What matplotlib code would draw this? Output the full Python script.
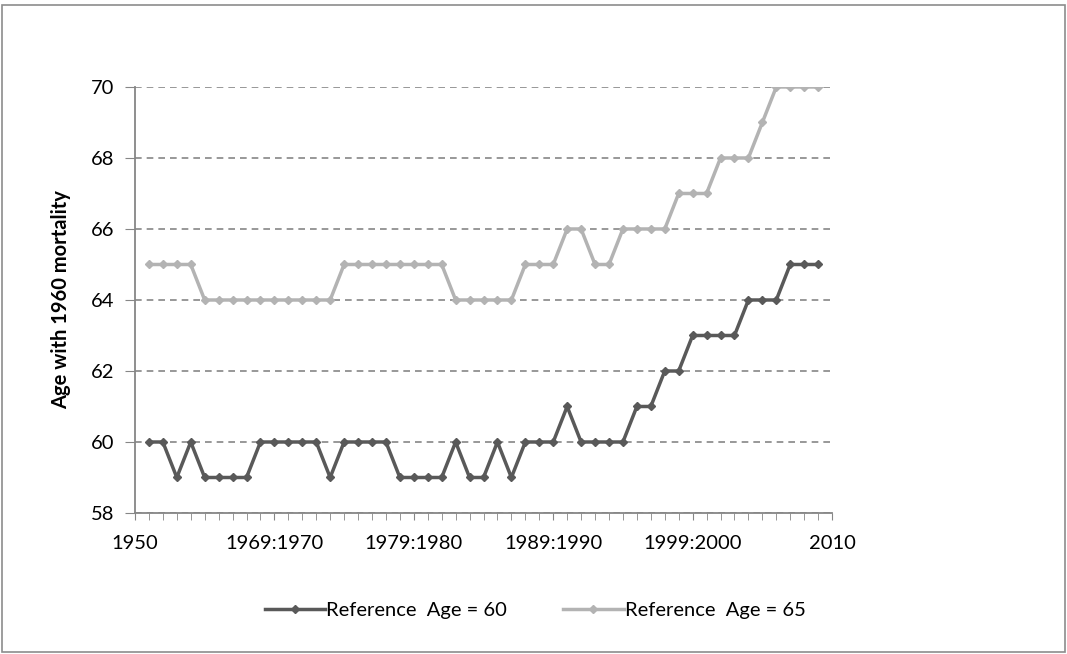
import matplotlib.pyplot as plt
import numpy as np
from matplotlib.patches import Rectangle

plt.rcParams["font.family"] = ["Lato", "DejaVu Sans"]

# values, one per category position (49 points)
age_60 = [60, 60, 59, 60, 59, 59, 59, 59, 60, 60, 60, 60, 60, 59, 60, 60, 60,
          60, 59, 59, 59, 59, 60, 59, 59, 60, 59, 60, 60, 60, 61, 60, 60, 60,
          60, 61, 61, 62, 62, 63, 63, 63, 63, 64, 64, 64, 65, 65, 65]
age_65 = [65, 65, 65, 65, 64, 64, 64, 64, 64, 64, 64, 64, 64, 64, 65, 65, 65,
          65, 65, 65, 65, 65, 64, 64, 64, 64, 64, 65, 65, 65, 66, 66, 65, 65,
          66, 66, 66, 66, 67, 67, 67, 68, 68, 68, 69, 70, 70, 70, 70]
x_labels = ["1950", "1969:1970", "1979:1980", "1989:1990", "1999:2000", "2010"]
series_labels = ["Reference  Age = 60", "Reference  Age = 65"]

dark = "#595959"
light = "#b3b3b3"
axis_grey = "#868686"

fig = plt.figure(figsize=(10.67, 6.54), dpi=100)
ax = fig.add_axes([0.1265, 0.2156, 0.6533, 0.6514])

x = np.arange(1, len(age_60) + 1)
ax.plot(x, age_60, color=dark, linewidth=2.5, marker="D", markersize=4.5,
        label=series_labels[0])
ax.plot(x, age_65, color=light, linewidth=2.5, marker="D", markersize=4.5,
        label=series_labels[1])

ax.set_xlim(0, len(age_60) + 1)
ax.set_ylim(58, 70)
ax.set_yticks(np.arange(58, 71, 2))
ax.set_xticks(np.arange(0, 51, 10))
ax.set_xticklabels(x_labels)
ax.set_xticks(np.arange(0, 51, 1), minor=True)

ax.yaxis.grid(True, linestyle=(0, (4, 3)), color=axis_grey, linewidth=1.2)
ax.set_axisbelow(True)

for side in ["top", "right"]:
    ax.spines[side].set_visible(False)
for side in ["left", "bottom"]:
    ax.spines[side].set_color(axis_grey)
    ax.spines[side].set_linewidth(1.3)

ax.tick_params(axis="y", which="major", length=7, color=axis_grey,
               labelsize=14.5, pad=8, direction="out")
ax.tick_params(axis="x", which="both", length=5, color=axis_grey,
               labelsize=14.5, pad=11, direction="out")

ax.set_ylabel("Age with 1960 mortality", fontsize=14.5, fontweight="bold",
              labelpad=14)

fig.legend(loc="center", bbox_to_anchor=(535 / 1067, 1 - 610 / 654), ncol=2,
           frameon=False, fontsize=14.5, handlelength=3.0, handletextpad=0.05,
           columnspacing=2.8)

fig.patches.append(Rectangle((0.002, 0.003), 0.996, 0.99, transform=fig.transFigure,
                             fill=False, edgecolor="#8c8c8c", linewidth=1.2))

fig.savefig("out.png", dpi=100)
